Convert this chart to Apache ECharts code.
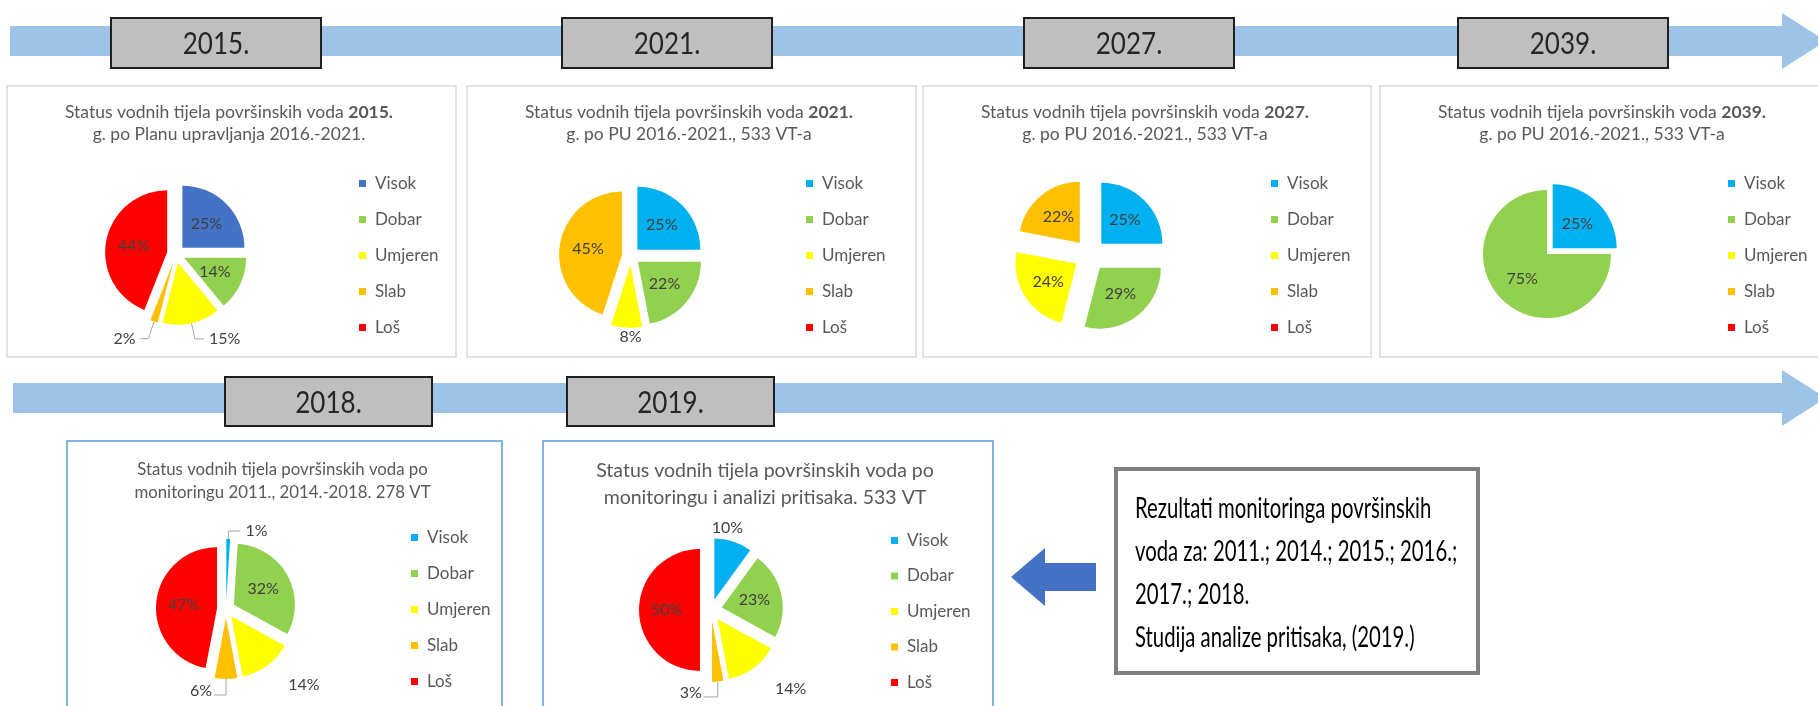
<!DOCTYPE html>
<html>
<head>
<meta charset="utf-8">
<script src="https://cdn.jsdelivr.net/npm/echarts@6/dist/echarts.min.js"></script>
<style>
  html, body { margin: 0; padding: 0; background: #ffffff; }
  #chart { width: 1818px; height: 706px; }
</style>
</head>
<body>
<div id="chart"></div>
<script>
// Status classes, in pie order (clockwise from 12 o'clock)
const categories = ['Visok', 'Dobar', 'Umjeren', 'Slab', 'Loš'];

// Share of water bodies per status class (%)
const values2015 = [25, 14, 15, 2, 44];
const values2021 = [25, 22, 8, 45, 0];
const values2027 = [25, 29, 24, 22, 0];
const values2039 = [25, 75, 0, 0, 0];
const values2018 = [1, 32, 14, 6, 47];
const values2019 = [10, 23, 14, 3, 50];

// Timeline tags
const topYears = ['2015.', '2021.', '2027.', '2039.'];
const bottomYears = ['2018.', '2019.'];

// Chart headings: first line, highlighted year, second line
const heading2015 = ['Status vodnih tijela površinskih voda ', '2015.', 'g. po Planu upravljanja 2016.-2021.'];
const heading2021 = ['Status vodnih tijela površinskih voda ', '2021.', 'g. po PU 2016.-2021., 533 VT-a'];
const heading2027 = ['Status vodnih tijela površinskih voda ', '2027.', 'g. po PU 2016.-2021., 533 VT-a'];
const heading2039 = ['Status vodnih tijela površinskih voda ', '2039.', 'g. po PU 2016.-2021., 533 VT-a'];
const heading2018 = ['Status vodnih tijela površinskih voda po', '', 'monitoringu 2011., 2014.-2018. 278 VT'];
const heading2019 = ['Status vodnih tijela površinskih voda po', '', 'monitoringu i analizi pritisaka. 533 VT'];

// Note next to the monitoring charts
const noteLines = [
  'Rezultati monitoringa površinskih',
  'voda za: 2011.; 2014.; 2015.; 2016.;',
  '2017.; 2018.',
  'Studija analize pritisaka, (2019.)'
];

const FONT = 'Lato, "Open Sans", "Noto Sans", sans-serif';
const statusColors = { Visok: '#00B0F0', Dobar: '#92D050', Umjeren: '#FFFF00', Slab: '#FFC000', 'Loš': '#FF0000' };
const LEADER = '#A6A6A6';

// Layout of each chart panel.
// outside: [radial length, horizontal length, leader shown]; flip: leader drawn down then to the left
const panels = [
  { values: values2015, heading: heading2015, visok: '#4472C4', frame: [7, 86, 449, 271], frameColor: '#D9D9D9',
    center: [176, 254], radius: 62, offset: 9, still: [],
    outside: { Umjeren: [16, 9, true], Slab: [18, 8, true] }, flip: {}, below: [], above: [],
    titleTop: 101, titleSize: 17.5, titleLH: 22, legend: [359, 175], legendGap: 19 },
  { values: values2021, heading: heading2021, visok: '#00B0F0', frame: [467, 86, 449, 271], frameColor: '#D9D9D9',
    center: [631, 256], radius: 63, offset: 9, still: [],
    outside: { Umjeren: [4, 0, false] }, flip: {}, below: ['Umjeren'], above: [],
    titleTop: 101, titleSize: 17.5, titleLH: 22, legend: [806, 175], legendGap: 19 },
  { values: values2027, heading: heading2027, visok: '#00B0F0', frame: [923, 86, 448, 271], frameColor: '#D9D9D9',
    center: [1090, 255], radius: 61, offset: 16, still: [],
    outside: {}, flip: {}, below: [], above: [],
    titleTop: 101, titleSize: 17.5, titleLH: 22, legend: [1271, 175], legendGap: 19 },
  { values: values2039, heading: heading2039, visok: '#00B0F0', frame: [1380, 86, 460, 271], frameColor: '#D9D9D9',
    center: [1547, 254], radius: 64, offset: 8, still: ['Dobar'],
    outside: {}, flip: {}, below: [], above: [],
    titleTop: 101, titleSize: 17.5, titleLH: 22, legend: [1728, 175], legendGap: 19 },
  { values: values2018, heading: heading2018, visok: '#00B0F0', frame: [67, 441, 435, 290], frameColor: '#5B9BD5',
    center: [226, 609], radius: 61, offset: 9, still: [],
    outside: { Visok: [8, 12, true], Umjeren: [24, 2, false], Slab: [14, 10, true] },
    flip: { Slab: [16, 12] }, below: [], above: [],
    titleTop: 458, titleSize: 16.8, titleLH: 23, legend: [411, 529], legendGap: 19 },
  { values: values2019, heading: heading2019, visok: '#00B0F0', frame: [543, 441, 450, 290], frameColor: '#5B9BD5',
    center: [711, 610], radius: 61, offset: 11, still: [],
    outside: { Visok: [4, 0, false], Umjeren: [25, 2, false], Slab: [15, 10, true] },
    flip: { Slab: [15, 14] }, below: [], above: ['Visok'],
    titleTop: 457, titleSize: 19.5, titleLH: 27, legend: [891, 532], legendGap: 18.5 }
];

function colorOf(name, panel) {
  return name === 'Visok' ? panel.visok : statusColors[name];
}

// Places the labels of small slices relative to the slice outline (shifts by dx / dy)
function makeLabelLayout(names, panel) {
  return function (params) {
    const name = names[params.dataIndex];
    const rect = params.rect;
    const lr = params.labelRect;
    if (!rect || !lr) return {};
    const flip = panel.flip[name];
    if (flip) {
      const bx = rect.x + rect.width / 2;
      const by = rect.y + rect.height;
      const p1 = [bx, by + flip[0]];
      const p2 = [bx - flip[1], by + flip[0]];
      return {
        dx: (p2[0] - 2 - lr.width) - lr.x,
        dy: (p2[1] - 4 - lr.height / 2) - lr.y,
        labelLinePoints: [[bx, by], p1, p2]
      };
    }
    if (panel.below.indexOf(name) >= 0) {
      return {
        dx: (rect.x + rect.width / 2 + 4 - lr.width / 2) - lr.x,
        dy: (rect.y + rect.height + 1) - lr.y
      };
    }
    if (panel.above.indexOf(name) >= 0) {
      return {
        dx: (rect.x + rect.width / 2 - 5 - lr.width / 2) - lr.x,
        dy: (rect.y - 3 - lr.height) - lr.y
      };
    }
    return {};
  };
}

const series = [];
const legends = [];
const titles = [];
const graphics = [];

// Timeline arrows
function timelineArrow(y0, y1, headTop, headBottom, x0) {
  const mid = (y0 + y1) / 2;
  return {
    type: 'polygon', z: 0,
    shape: { points: [[x0, y0], [1782, y0], [1782, headTop], [1826, mid], [1782, headBottom], [1782, y1], [x0, y1]] },
    style: { fill: '#9DC3E6' }
  };
}
graphics.push(timelineArrow(26, 56, 13, 69, 10));
graphics.push(timelineArrow(383, 413, 370, 426, 13));

// Year tags on the arrows
const topTagX = [111, 562, 1024, 1458];
const bottomTagX = [225, 567];
function yearTag(label, x, y, w, h) {
  graphics.push({ type: 'rect', z: 1, shape: { x: x, y: y, width: w, height: h },
    style: { fill: '#BFBFBF', stroke: '#1F1F1F', lineWidth: 2 } });
  graphics.push({ type: 'text', z: 2, x: x + w / 2, y: y + h / 2 + 1, scaleX: 0.84,
    style: { text: label, fill: '#262626', fontFamily: FONT, fontSize: 31,
             align: 'center', verticalAlign: 'middle' } });
}
topYears.forEach((yr, i) => yearTag(yr, topTagX[i], 18, 210, 50));
bottomYears.forEach((yr, i) => yearTag(yr, bottomTagX[i], 377, 207, 49));

panels.forEach((panel, pi) => {
  const f = panel.frame;
  graphics.push({ type: 'rect', z: 0, shape: { x: f[0], y: f[1], width: f[2], height: f[3] },
    style: { fill: 'none', stroke: panel.frameColor, lineWidth: 1.5 } });

  // Heading
  const h = panel.heading;
  const line1 = h[1] ? h[0] + '{b|' + h[1] + '}' : h[0];
  titles.push({
    text: line1 + '\n' + h[2],
    left: Math.min(f[0] + f[2] / 2, f[0] + 224) - 2, top: panel.titleTop, textAlign: 'center', padding: 0,
    textStyle: {
      fontFamily: FONT, fontSize: panel.titleSize, fontWeight: 'normal', color: '#595959', lineHeight: panel.titleLH,
      rich: { b: { fontFamily: FONT, fontSize: panel.titleSize, fontWeight: 'bold', color: '#595959', lineHeight: panel.titleLH } }
    }
  });

  // Pie
  const names = [];
  const data = [];
  categories.forEach((name, i) => {
    const v = panel.values[i];
    if (!v) return;
    names.push(name);
    const item = {
      name: name, value: v,
      selected: panel.still.indexOf(name) < 0,
      itemStyle: { color: colorOf(name, panel) }
    };
    const out = panel.outside[name];
    if (out) {
      item.label = { position: 'outside' };
      item.labelLine = { show: out[2], length: out[0], length2: out[1], lineStyle: { color: LEADER, width: 1 } };
    }
    data.push(item);
  });
  series.push({
    type: 'pie', name: 'status' + pi,
    center: panel.center, radius: panel.radius,
    startAngle: 90, clockwise: true,
    selectedMode: 'multiple', selectedOffset: panel.offset,
    avoidLabelOverlap: false,
    emphasis: { disabled: true },
    label: { show: true, position: 'inside', formatter: '{c}%', color: '#404040',
             fontFamily: FONT, fontSize: 16, fontWeight: 'normal' },
    labelLine: { show: false },
    labelLayout: makeLabelLayout(names, panel),
    data: data
  });

  // Legend
  legends.push({
    orient: 'vertical', left: panel.legend[0], top: panel.legend[1],
    itemWidth: 7, itemHeight: 7, itemGap: panel.legendGap, icon: 'rect', padding: 0,
    selectedMode: false,
    textStyle: { fontFamily: FONT, fontSize: 17, color: '#595959', lineHeight: 17, padding: [0, 0, 0, 4] },
    data: categories.map(n => ({ name: n, itemStyle: { color: colorOf(n, panel) } }))
  });
});

// Note box with its pointer
graphics.push({ type: 'polygon', z: 1,
  shape: { points: [[1011, 577], [1045, 548], [1045, 563], [1096, 563], [1096, 591], [1045, 591], [1045, 606]] },
  style: { fill: '#4472C4' } });
graphics.push({ type: 'rect', z: 1, shape: { x: 1116, y: 469, width: 362, height: 204 },
  style: { fill: '#FFFFFF', stroke: '#7F7F7F', lineWidth: 4 } });
noteLines.forEach((line, i) => {
  graphics.push({ type: 'text', z: 2, x: 1135, y: 509 + i * 43, scaleX: 0.7,
    style: { text: line, fill: '#000000', fontFamily: FONT, fontSize: 29,
             align: 'left', verticalAlign: 'middle' } });
});

const chart = echarts.init(document.getElementById('chart'));
chart.setOption({
  animation: false,
  backgroundColor: '#FFFFFF',
  title: titles,
  legend: legends,
  graphic: graphics,
  series: series
});
</script>
</body>
</html>
